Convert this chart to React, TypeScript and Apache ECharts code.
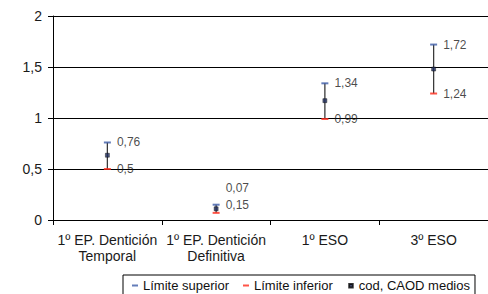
import React, { useEffect, useRef } from "react";
import * as echarts from "echarts";

const categories = ["1º EP. Dentición\nTemporal", "1º EP. Dentición\nDefinitiva", "1º ESO", "3º ESO"];
const upperValues = [0.76, 0.15, 1.34, 1.72];
const lowerValues = [0.5, 0.07, 0.99, 1.24];
const meanValues = [0.635, 0.11, 1.17, 1.48];
const yTicks = { min: 0, max: 2, interval: 0.5 };

const FONT = "'Liberation Sans', Arial, sans-serif";
const fmt = (v: number) => String(v).replace(".", ",");

export default function App() {
  const ref = useRef<HTMLDivElement>(null);
  useEffect(() => {
    if (!ref.current) return;
    const chart = echarts.init(ref.current, null, { renderer: "svg" });
    const labelBase = {
      show: true,
      position: "right",
      distance: 6,
      fontSize: 12,
      fontFamily: FONT,
      color: "#1a1a1a",
      formatter: (p: any) => fmt(p.value[1]),
    };
    chart.setOption({
      animation: false,
      backgroundColor: "#fff",
      grid: { left: 53, top: 16, right: -16, bottom: 74 },
      xAxis: {
        type: "category",
        data: categories,
        boundaryGap: true,
        axisLine: { lineStyle: { color: "#000", width: 1 } },
        axisTick: { show: true, length: 5, lineStyle: { color: "#000" } },
        axisLabel: {
          color: "#1a1a1a",
          fontSize: 14,
          fontFamily: FONT,
          margin: 12,
          lineHeight: 16,
          interval: 0,
        },
      },
      yAxis: {
        type: "value",
        min: yTicks.min,
        max: yTicks.max,
        interval: yTicks.interval,
        axisLine: { show: true, lineStyle: { color: "#000", width: 1 } },
        axisTick: { show: true, length: 5, lineStyle: { color: "#000" } },
        axisLabel: {
          color: "#1a1a1a",
          fontSize: 14,
          fontFamily: FONT,
          margin: 11,
          formatter: (v: number) => fmt(v),
        },
        splitLine: { show: true, lineStyle: { color: "#000", width: 1 } },
      },
      legend: {
        left: 123,
        top: 275,
        orient: "horizontal",
        padding: [3, 5, 4, 9],
        borderColor: "#000",
        borderWidth: 1,
        itemGap: 14,
        itemTextGap: 3,
        itemWidth: 6,
        itemHeight: 6,
        textStyle: { fontSize: 13, fontFamily: FONT, color: "#111", lineHeight: 15 },
        data: [
          { name: "Límite superior", icon: "path://M0,0M6,6M0,2h6v2h-6z", itemStyle: { color: "#3d5da8" } },
          { name: "Límite inferior", icon: "path://M0,0M6,6M0,2h6v2h-6z", itemStyle: { color: "#ff2a1a" } },
          { name: "cod, CAOD medios", icon: "path://M0,0M6,6M1.5,1.5h3.5v3.5h-3.5z", itemStyle: { color: "#1f2d5e" } },
        ],
      },
      series: [
        {
          type: "custom",
          name: "range",
          z: 1,
          data: categories.map((_, i) => [i, lowerValues[i], upperValues[i]]),
          renderItem: (params: any, api: any) => {
            const lo = api.coord([api.value(0), api.value(1)]);
            const hi = api.coord([api.value(0), api.value(2)]);
            return {
              type: "line",
              shape: { x1: lo[0], y1: lo[1], x2: hi[0], y2: hi[1] },
              style: { stroke: "#3a3a3a", lineWidth: 1.3 },
            };
          },
        },
        {
          type: "scatter",
          name: "Límite superior",
          z: 3,
          symbol: "rect",
          symbolSize: [7, 2],
          itemStyle: { color: "#3d5da8" },
          label: labelBase,
          data: upperValues.map((v, i) => [i, v]),
        },
        {
          type: "scatter",
          name: "Límite inferior",
          z: 3,
          symbol: "rect",
          symbolSize: [7, 2],
          itemStyle: { color: "#ff2a1a" },
          label: labelBase,
          data: lowerValues.map((v, i) =>
            i === 1 ? { value: [i, v], label: { offset: [0, -25] } } : [i, v]
          ),
        },
        {
          type: "scatter",
          name: "cod, CAOD medios",
          z: 4,
          symbol: "rect",
          symbolSize: 4,
          itemStyle: { color: "#1f2d5e", borderColor: "#000", borderWidth: 0.5 },
          data: meanValues.map((v, i) => [i, v]),
        },
      ],
    });
    return () => chart.dispose();
  }, []);
  return (
    <div
      ref={ref}
      style={{ position: "absolute", left: 0, top: 0, width: 488, height: 294 }}
    />
  );
}
